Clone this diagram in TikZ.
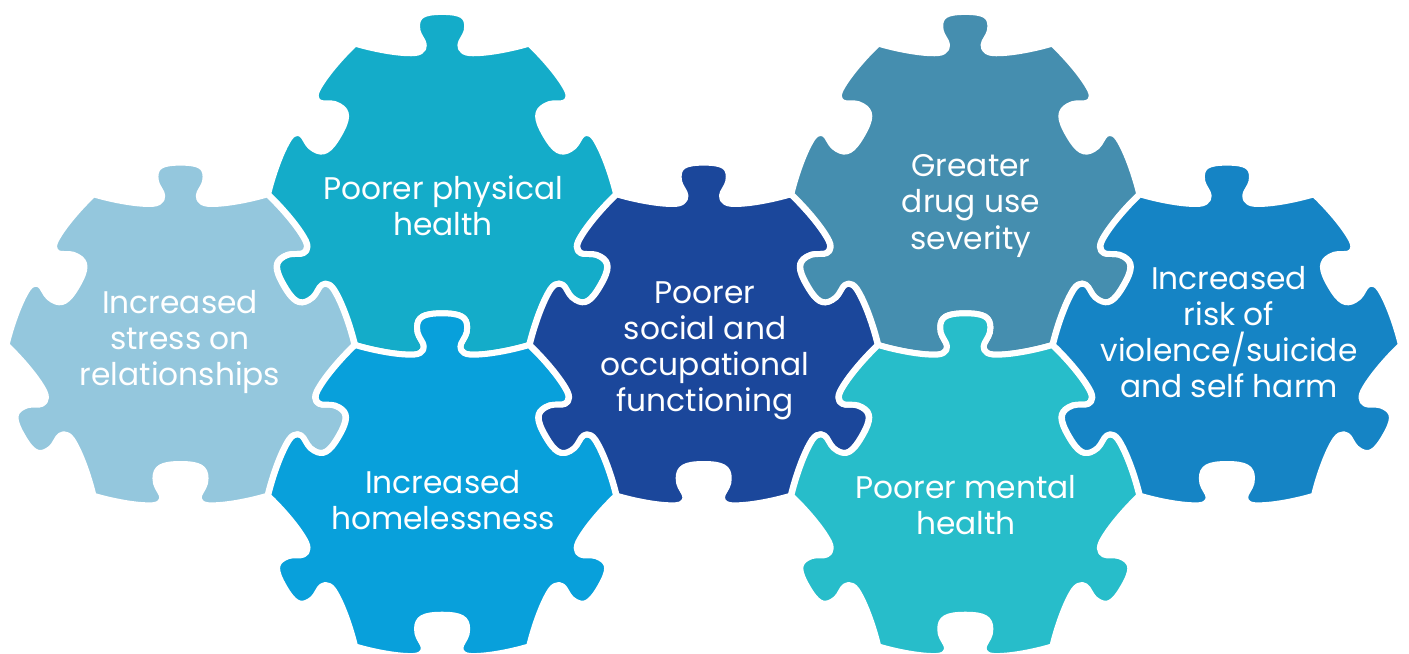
\documentclass[tikz,border=0pt]{standalone}
\usepackage{fontspec}
\setmainfont{Poppins}
\usepackage{xcolor}
\usetikzlibrary{positioning}

\definecolor{pzLight}{HTML}{94C7DD}
\definecolor{pzTeal}{HTML}{14ACC9}
\definecolor{pzSky}{HTML}{08A0DB}
\definecolor{pzNavy}{HTML}{1B479B}
\definecolor{pzSteel}{HTML}{458EAF}
\definecolor{pzAqua}{HTML}{27BDCA}
\definecolor{pzBlue}{HTML}{1584C5}

% one side of a piece, from the corner at angle #1; #2=-1 knob, 1 hole
\newcommand\pzside[2]{%
  .. controls ([pzs={#1}{#2}]0.10,-0.03) and ([pzs={#1}{#2}]0.25,-0.06) .. ([pzs={#1}{#2}]0.34,-0.055)
  .. controls ([pzs={#1}{#2}]0.40,-0.05) and ([pzs={#1}{#2}]0.40,-0.01) .. ([pzs={#1}{#2}]0.39,0.01)
  .. controls ([pzs={#1}{#2}]0.375,0.04) and ([pzs={#1}{#2}]0.355,0.06) .. ([pzs={#1}{#2}]0.356,0.10)
  .. controls ([pzs={#1}{#2}]0.356,0.16) and ([pzs={#1}{#2}]0.39,0.182) .. ([pzs={#1}{#2}]0.5,0.182)
  .. controls ([pzs={#1}{#2}]0.61,0.182) and ([pzs={#1}{#2}]0.644,0.16) .. ([pzs={#1}{#2}]0.644,0.10)
  .. controls ([pzs={#1}{#2}]0.645,0.06) and ([pzs={#1}{#2}]0.625,0.04) .. ([pzs={#1}{#2}]0.61,0.01)
  .. controls ([pzs={#1}{#2}]0.60,-0.01) and ([pzs={#1}{#2}]0.60,-0.05) .. ([pzs={#1}{#2}]0.66,-0.055)
  .. controls ([pzs={#1}{#2}]0.75,-0.06) and ([pzs={#1}{#2}]0.90,-0.03) .. ([pzs={#1}{#2}]1,0)}

\tikzset{
  pzs/.style 2 args={shift={(#1:1)}, rotate=#1+120, yscale=#2},
  puzzle/.pic={\path[pic actions] (240:1) \pzside{240}{1} \pzside{300}{-1} \pzside{0}{1}
    \pzside{60}{-1} \pzside{120}{1} \pzside{180}{-1} -- cycle;}
}

\begin{document}
\begin{tikzpicture}[x=0.02cm, y=0.02cm,
  piece/.style={fill=#1, draw=white, line width=3.4pt, line join=round, scale=174},
  lbl/.style={text=white, align=center, font=\fontsize{17.8}{20.5}\selectfont}]
\fill[white] (0,0) rectangle (1409,653);
\useasboundingbox (0,0) rectangle (1409,653);

\pic[piece=pzLight] at (180.5,308) {puzzle};
\pic[piece=pzTeal] at (442.1,458.7) {puzzle};
\pic[piece=pzSky] at (442.1,157.3) {puzzle};
\pic[piece=pzNavy] at (703.7,308) {puzzle};
\pic[piece=pzSteel] at (965.3,458.7) {puzzle};
\pic[piece=pzAqua] at (965.3,157.3) {puzzle};
\pic[piece=pzBlue] at (1226.9,308) {puzzle};

\node[lbl] (stress) at (180,311) {Increased\\stress on\\relationships};
\node[lbl] (physical) at (443,447) {Poorer physical\\health};
\node[lbl] (homeless) at (443,153) {Increased\\homelessness};
\node[lbl] (social) at (705,302) {Poorer\\social and\\occupational\\functioning};
\node[lbl] (drug) at (971,447) {Greater\\drug use\\severity};
\node[lbl] (mental) at (966,148) {Poorer mental\\health};
\node[lbl] (risk) at (1229,321) {Increased\\risk of\\violence/suicide\\and self harm};
\end{tikzpicture}
\end{document}
